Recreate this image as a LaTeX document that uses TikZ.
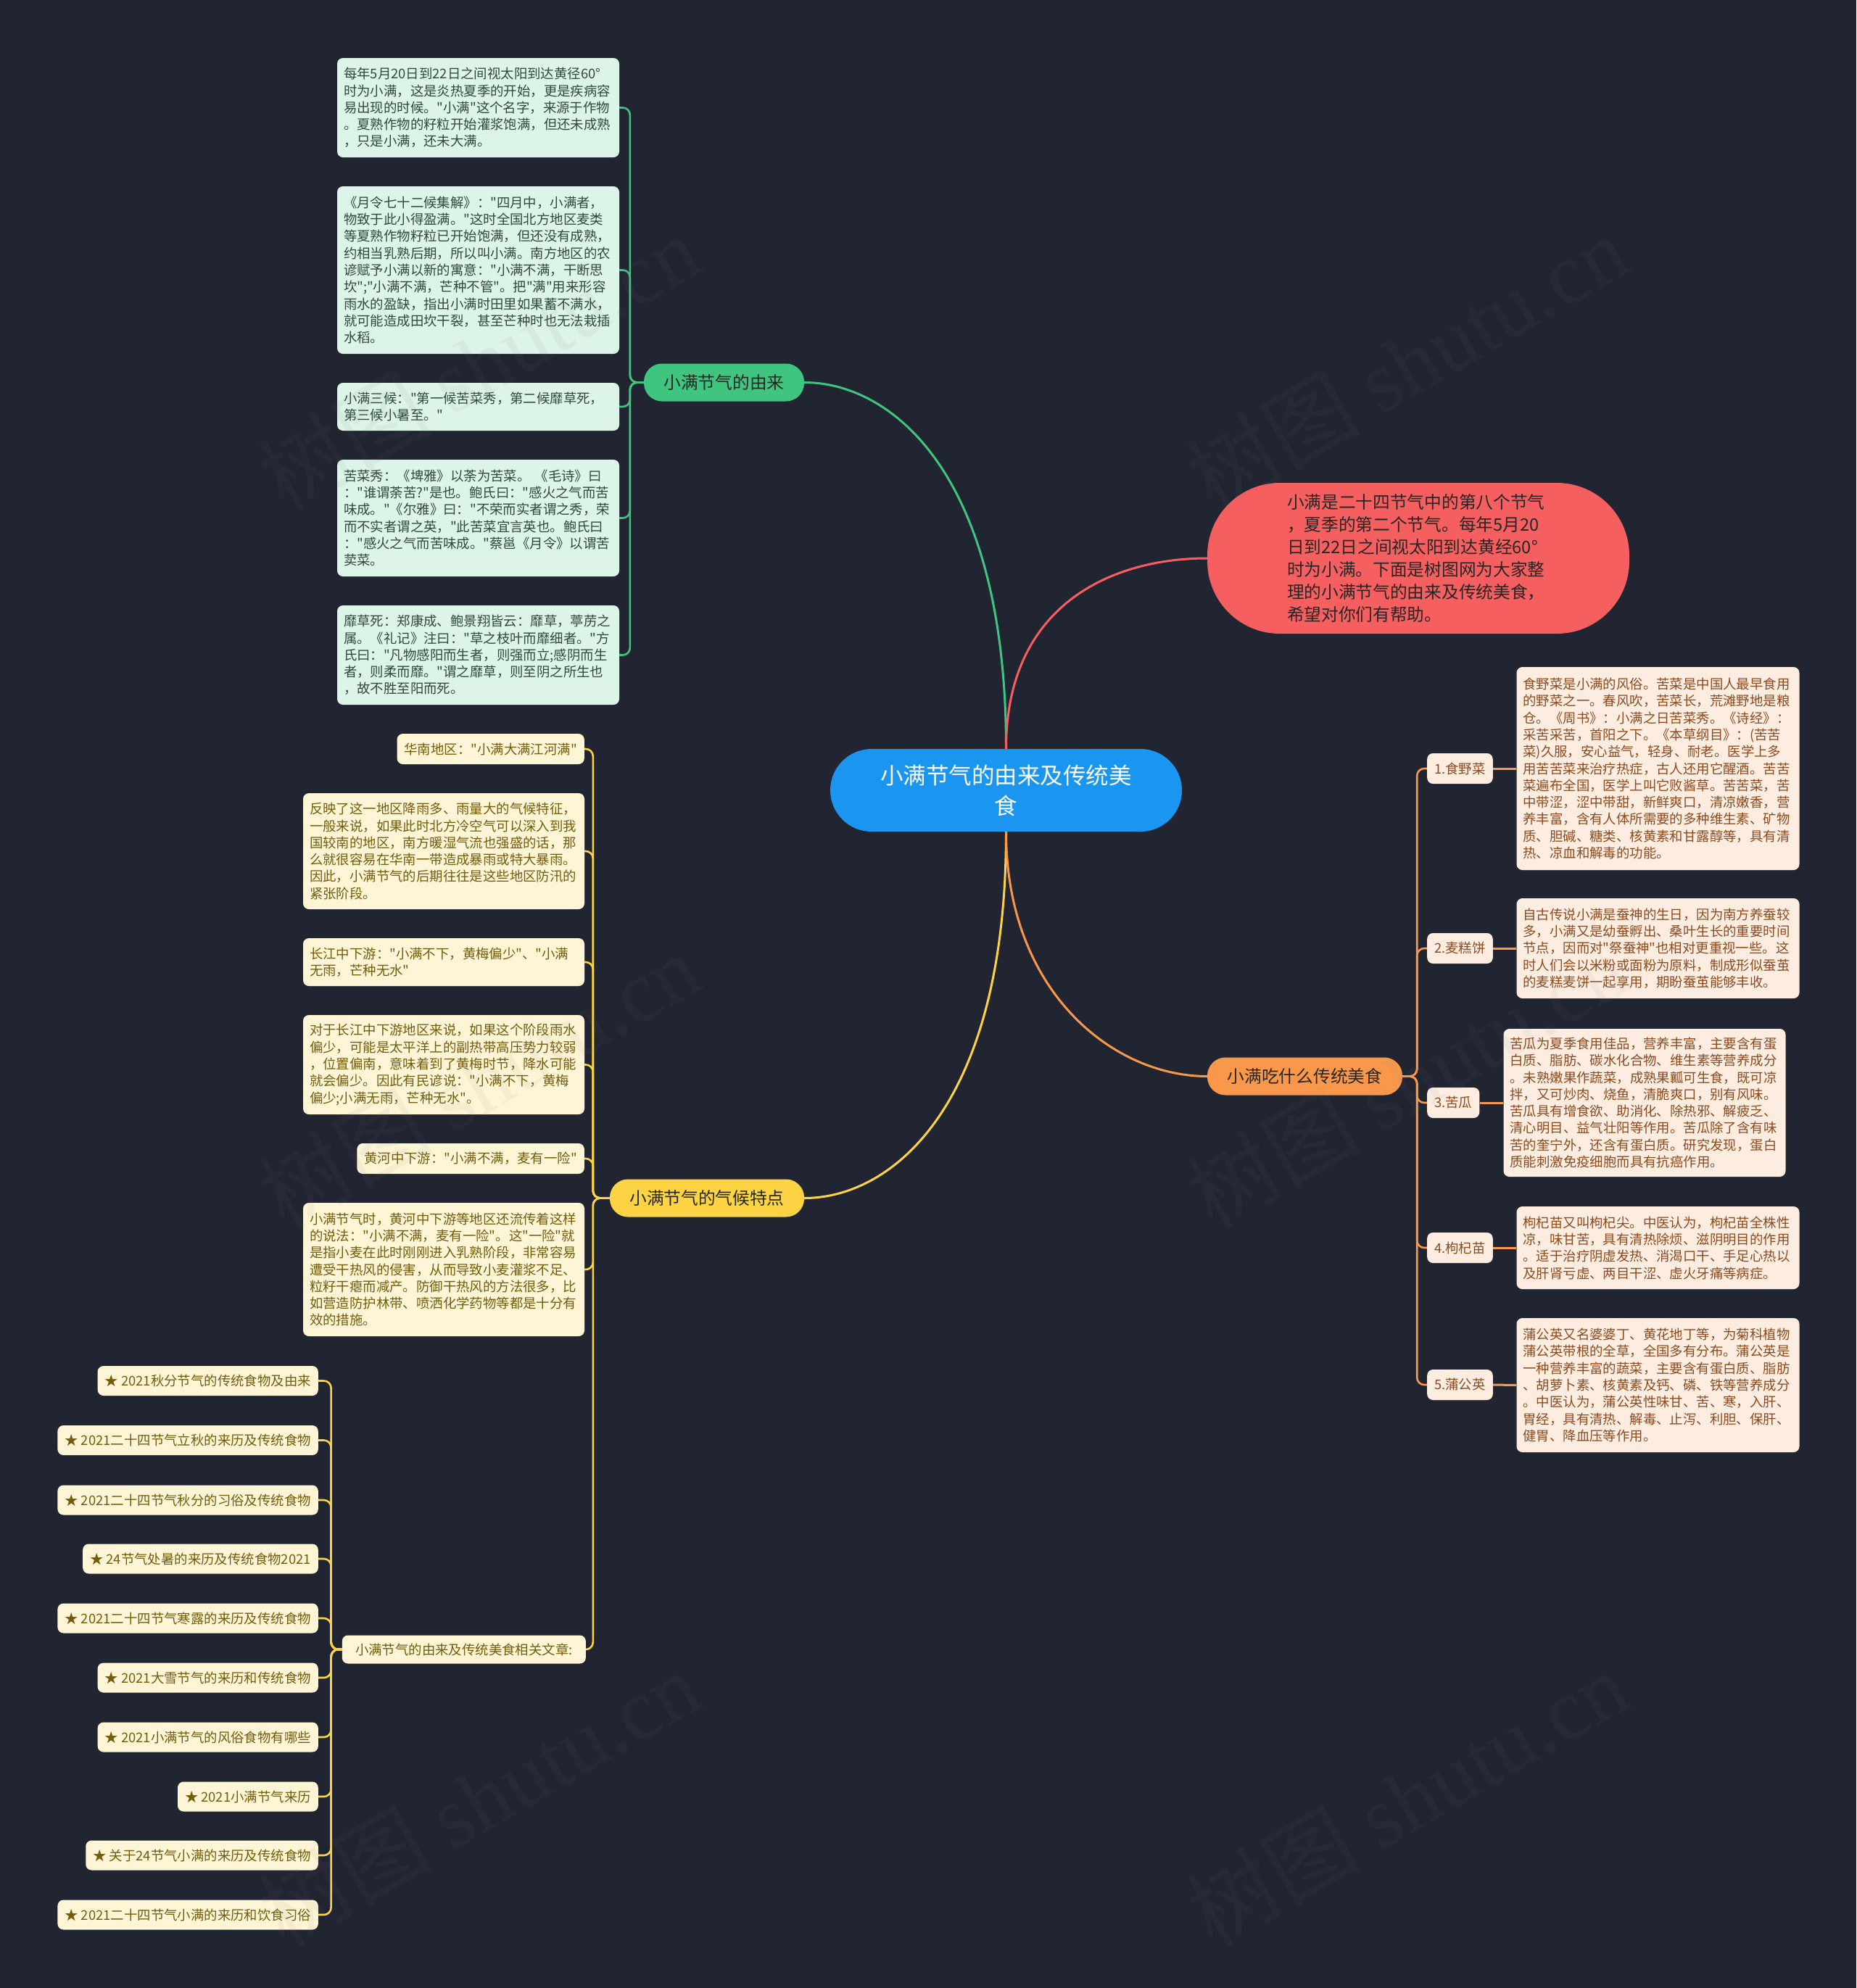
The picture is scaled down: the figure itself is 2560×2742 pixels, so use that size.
\documentclass[tikz,border=0pt]{standalone}
\usepackage{fontspec}
\setmainfont{Noto Sans CJK SC}[Ligatures=TeXOff]
\newfontfamily\wmserif{Liberation Serif}
\definecolor{bg}{HTML}{212431}
\definecolor{cblue}{HTML}{1A96F0}
\definecolor{cred}{HTML}{F55F5F}
\definecolor{gbr}{HTML}{3FC580}
\definecolor{gfill}{HTML}{DDF4E8}
\definecolor{gtext}{HTML}{2E4A3C}
\definecolor{ybr}{HTML}{FCD443}
\definecolor{yfill}{HTML}{FDF5D6}
\definecolor{ytext}{HTML}{735C0C}
\definecolor{obr}{HTML}{F9984B}
\definecolor{ofill}{HTML}{FDEDE1}
\definecolor{otext}{HTML}{8C4A1E}
\definecolor{dtext}{HTML}{262626}
\begin{document}
\begin{tikzpicture}[x=1pt,y=-1pt,
  leaf/.style={rounded corners=8pt, inner xsep=9pt, inner ysep=5pt, align=left,
    font=\fontsize{18.4pt}{23.3pt}\selectfont},
  leafG/.style={leaf, fill=gfill, text=gtext},
  leafY/.style={leaf, fill=yfill, text=ytext},
  leafO/.style={leaf, fill=ofill, text=otext},
  artbox/.style={leafY, anchor=east, minimum height=41pt, inner xsep=10pt},
  lbl/.style={leafO, anchor=west, minimum height=42pt, inner xsep=10pt},
  branch/.style={rounded corners=25pt, inner sep=0pt, minimum height=52pt, text=dtext,
    font=\fontsize{23.7pt}{28pt}\selectfont},
  mainln/.style={line width=3pt},
  sub/.style={line width=2.6pt, rounded corners=10pt},
  wm/.style={text=gray, opacity=0.07, rotate=30, font=\fontsize{120pt}{130pt}\selectfont}
]
\fill[bg] (0,0) rectangle (2560,2742);
\useasboundingbox (0,0) rectangle (2560,2742);

% ---------- central and first level ----------
\node[fill=cblue, text=white, rounded corners=57pt, minimum width=485pt, minimum height=114pt,
  align=center, inner sep=0pt, font=\fontsize{31.5pt}{42pt}\selectfont] (c) at (1387.5,1090)
  {小满节气的由来及传统美\\食};
\node[fill=cred, text=dtext, rounded corners=100pt, minimum width=582pt, minimum height=208pt,
  text width=362pt, align=left, inner sep=0pt, font=\fontsize{23.7pt}{31pt}\selectfont] (r) at (1956,770)
  {小满是二十四节气中的第八个节气\\，夏季的第二个节气。每年5月20\\日到22日之间视太阳到达黄经60°\\时为小满。下面是树图网为大家整\\理的小满节气的由来及传统美食，\\希望对你们有帮助。};
\node[branch, fill=gbr, minimum width=221pt] (g) at (998.5,527.5) {小满节气的由来};
\node[branch, fill=ybr, minimum width=268pt] (y) at (975,1652.5) {小满节气的气候特点};
\node[branch, fill=obr, minimum width=269pt] (o) at (1799.5,1484.5) {小满吃什么传统美食};

\draw[mainln, draw=gbr] (c.north) .. controls +(0,-380) and +(120,0) .. (g.east);
\draw[mainln, draw=cred] (c.north) .. controls +(0,-200) and +(-130,0) .. (r.west);
\draw[mainln, draw=ybr] (c.south) .. controls +(0,380) and +(120,0) .. (y.east);
\draw[mainln, draw=obr] (c.south) .. controls +(0,220) and +(-130,0) .. (o.west);

% ---------- green leaves ----------
\node[leafG, minimum width=389pt, minimum height=137pt, text width=371pt] (g1) at (659.5,148.5)
  {每年5月20日到22日之间视太阳到达黄径60°\\时为小满，这是炎热夏季的开始，更是疾病容\\易出现的时候。"小满"这个名字，来源于作物\\。夏熟作物的籽粒开始灌浆饱满，但还未成熟\\，只是小满，还未大满。};
\node[leafG, minimum width=389pt, minimum height=231pt, text width=371pt] (g2) at (659.5,372.5)
  {《月令七十二候集解》："四月中，小满者，\\物致于此小得盈满。"这时全国北方地区麦类\\等夏熟作物籽粒已开始饱满，但还没有成熟，\\约相当乳熟后期，所以叫小满。南方地区的农\\谚赋予小满以新的寓意："小满不满，干断思\\坎";"小满不满，芒种不管"。把"满"用来形容\\雨水的盈缺，指出小满时田里如果蓄不满水，\\就可能造成田坎干裂，甚至芒种时也无法栽插\\水稻。};
\node[leafG, minimum width=389pt, minimum height=66pt, text width=371pt] (g3) at (659.5,561)
  {小满三候："第一候苦菜秀，第二候靡草死，\\第三候小暑至。"};
\node[leafG, minimum width=389pt, minimum height=161pt, text width=371pt] (g4) at (659.5,714.5)
  {苦菜秀：《埤雅》以荼为苦菜。~《毛诗》曰\\："谁谓荼苦?"是也。鲍氏曰："感火之气而苦\\味成。"《尔雅》曰："不荣而实者谓之秀，荣\\而不实者谓之英，"此苦菜宜言英也。鲍氏曰\\："感火之气而苦味成。"蔡邕《月令》以谓苦\\荬菜。};
\node[leafG, minimum width=389pt, minimum height=137pt, text width=371pt] (g5) at (659.5,903.5)
  {靡草死：郑康成、鲍景翔皆云：靡草，葶苈之\\属。《礼记》注曰："草之枝叶而靡细者。"方\\氏曰："凡物感阳而生者，则强而立;感阴而生\\者，则柔而靡。"谓之靡草，则至阴之所生也\\，故不胜至阳而死。};
\foreach \k in {g1,g2,g3,g4,g5}
  \draw[sub, draw=gbr] (g.west) -- ++(-19,0) |- (\k.east);

% ---------- yellow leaves ----------
\node[leafY, anchor=east, minimum height=42pt, inner xsep=10pt] (y1) at (806,1033)
  {华南地区："小满大满江河满"};
\node[leafY, minimum width=388pt, minimum height=160pt, text width=370pt] (y2) at (612,1174)
  {反映了这一地区降雨多、雨量大的气候特征，\\一般来说，如果此时北方冷空气可以深入到我\\国较南的地区，南方暖湿气流也强盛的话，那\\么就很容易在华南一带造成暴雨或特大暴雨。\\因此，小满节气的后期往往是这些地区防汛的\\紧张阶段。};
\node[leafY, minimum width=388pt, minimum height=66pt, text width=370pt] (y3) at (612,1327)
  {长江中下游："小满不下，黄梅偏少"、"小满\\无雨，芒种无水"};
\node[leafY, minimum width=388pt, minimum height=137pt, text width=370pt] (y4) at (612,1468.5)
  {对于长江中下游地区来说，如果这个阶段雨水\\偏少，可能是太平洋上的副热带高压势力较弱\\，位置偏南，意味着到了黄梅时节，降水可能\\就会偏少。因此有民谚说："小满不下，黄梅\\偏少;小满无雨，芒种无水"。};
\node[leafY, anchor=east, minimum height=42pt, inner xsep=10pt] (y5) at (806,1598)
  {黄河中下游："小满不满，麦有一险"};
\node[leafY, minimum width=388pt, minimum height=184pt, text width=370pt] (y6) at (612,1751)
  {小满节气时，黄河中下游等地区还流传着这样\\的说法："小满不满，麦有一险"。这"一险"就\\是指小麦在此时刚刚进入乳熟阶段，非常容易\\遭受干热风的侵害，从而导致小麦灌浆不足、\\粒籽干瘪而减产。防御干热风的方法很多，比\\如营造防护林带、喷洒化学药物等都是十分有\\效的措施。};
\node[leafY, anchor=east, minimum height=39pt, minimum width=336pt, inner xsep=10pt] (y7) at (808,2275)
  {小满节气的由来及传统美食相关文章:};
\foreach \k in {y1,y2,y3,y4,y5,y6,y7}
  \draw[sub, draw=ybr] (y.west) -- ++(-23,0) |- (\k.east);

% ---------- related articles ----------
\node[artbox] (a1) at (439,1904.5) {★ 2021秋分节气的传统食物及由来};
\node[artbox] (a2) at (439,1986.5) {★ 2021二十四节气立秋的来历及传统食物};
\node[artbox] (a3) at (439,2069) {★ 2021二十四节气秋分的习俗及传统食物};
\node[artbox] (a4) at (439,2150) {★ 24节气处暑的来历及传统食物2021};
\node[artbox] (a5) at (439,2232) {★ 2021二十四节气寒露的来历及传统食物};
\node[artbox] (a6) at (439,2314) {★ 2021大雪节气的来历和传统食物};
\node[artbox] (a7) at (439,2396) {★ 2021小满节气的风俗食物有哪些};
\node[artbox] (a8) at (439,2478) {★ 2021小满节气来历};
\node[artbox] (a9) at (439,2559) {★ 关于24节气小满的来历及传统食物};
\node[artbox] (a10) at (439,2641) {★ 2021二十四节气小满的来历和饮食习俗};
\foreach \k in {a1,a2,a3,a4,a5,a6,a7,a8,a9,a10}
  \draw[sub, draw=ybr] (y7.west) -- ++(-15,0) |- (\k.east);

% ---------- orange leaves ----------
\node[lbl] (l1) at (1968,1060) {1.食野菜};
\node[lbl] (l2) at (1968,1308) {2.麦糕饼};
\node[lbl] (l3) at (1968,1521) {3.苦瓜};
\node[lbl] (l4) at (1968,1721) {4.枸杞苗};
\node[lbl] (l5) at (1968,1910) {5.蒲公英};
\node[leafO, minimum width=389pt, minimum height=280pt, text width=372pt] (ob1) at (2286.5,1060)
  {食野菜是小满的风俗。苦菜是中国人最早食用\\的野菜之一。春风吹，苦菜长，荒滩野地是粮\\仓。《周书》：小满之日苦菜秀。《诗经》：\\采苦采苦，首阳之下。《本草纲目》：(苦苦\\菜)久服，安心益气，轻身、耐老。医学上多\\用苦苦菜来治疗热症，古人还用它醒酒。苦苦\\菜遍布全国，医学上叫它败酱草。苦苦菜，苦\\中带涩，涩中带甜，新鲜爽口，清凉嫩香，营\\养丰富，含有人体所需要的多种维生素、矿物\\质、胆碱、糖类、核黄素和甘露醇等，具有清\\热、凉血和解毒的功能。};
\node[leafO, minimum width=389pt, minimum height=138pt, text width=372pt] (ob2) at (2286.5,1308)
  {自古传说小满是蚕神的生日，因为南方养蚕较\\多，小满又是幼蚕孵出、桑叶生长的重要时间\\节点，因而对"祭蚕神"也相对更重视一些。这\\时人们会以米粉或面粉为原料，制成形似蚕茧\\的麦糕麦饼一起享用，期盼蚕茧能够丰收。};
\node[leafO, minimum width=388pt, minimum height=204pt, text width=371pt] (ob3) at (2268,1521)
  {苦瓜为夏季食用佳品，营养丰富，主要含有蛋\\白质、脂肪、碳水化合物、维生素等营养成分\\。未熟嫩果作蔬菜，成熟果瓤可生食，既可凉\\拌，又可炒肉、烧鱼，清脆爽口，别有风味。\\苦瓜具有增食欲、助消化、除热邪、解疲乏、\\清心明目、益气壮阳等作用。苦瓜除了含有味\\苦的奎宁外，还含有蛋白质。研究发现，蛋白\\质能刺激免疫细胞而具有抗癌作用。};
\node[leafO, minimum width=389pt, minimum height=114pt, text width=372pt] (ob4) at (2286.5,1721)
  {枸杞苗又叫枸杞尖。中医认为，枸杞苗全株性\\凉，味甘苦，具有清热除烦、滋阴明目的作用\\。适于治疗阴虚发热、消渴口干、手足心热以\\及肝肾亏虚、两目干涩、虚火牙痛等病症。};
\node[leafO, minimum width=389pt, minimum height=185pt, text width=372pt] (ob5) at (2286.5,1910.5)
  {蒲公英又名婆婆丁、黄花地丁等，为菊科植物\\蒲公英带根的全草，全国多有分布。蒲公英是\\一种营养丰富的蔬菜，主要含有蛋白质、脂肪\\、胡萝卜素、核黄素及钙、磷、铁等营养成分\\。中医认为，蒲公英性味甘、苦、寒，入肝、\\胃经，具有清热、解毒、止泻、利胆、保肝、\\健胃、降血压等作用。};
\foreach \k in {l1,l2,l3,l4,l5}
  \draw[sub, draw=obr] (o.east) -- ++(20,0) |- (\k.west);
\foreach \a/\b in {l1/ob1,l2/ob2,l3/ob3,l4/ob4,l5/ob5}
  \draw[line width=3pt, draw=obr] (\a.east) -- (\b.west);

% ---------- watermarks ----------
\foreach \p/\q in {660/500,1940/500,660/1490,1940/1490,660/2480,1940/2480}
  \node[wm] (w\p\q) at (\p,\q) {树图 {\wmserif shutu.cn}};
\end{tikzpicture}
\end{document}
